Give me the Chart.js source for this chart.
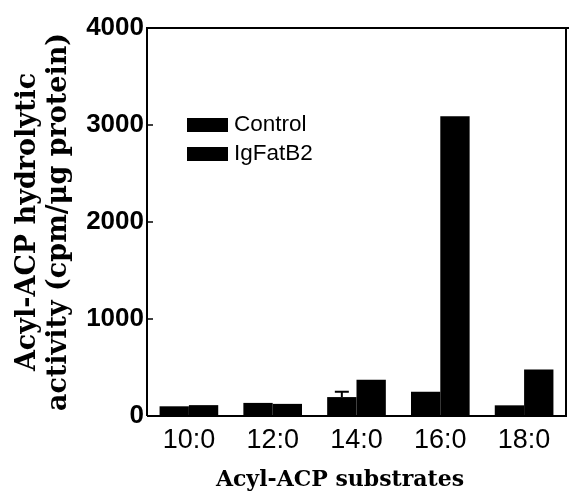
<!DOCTYPE html>
<html>
<head>
<meta charset="utf-8">
<script src="https://cdn.jsdelivr.net/npm/chart.js@4.4.1/dist/chart.umd.min.js"></script>
<style>
html,body{margin:0;padding:0;background:#fff;}
#wrap{width:569px;height:494px;position:relative;}
</style>
</head>
<body>
<div id="wrap"><canvas id="c" width="569" height="494"></canvas></div>
<script>
const categories = ['10:0', '12:0', '14:0', '16:0', '18:0'];
const controlValues = [100, 135, 195, 250, 110];
const igFatB2Values = [112, 125, 375, 3090, 480];
const controlErrors = [0, 0, 55, 0, 0];
const yTicks = [0, 1000, 2000, 3000, 4000];
const seriesLabels = ['Control', 'IgFatB2'];
const xTitle = 'Acyl-ACP substrates';

const framePlugin = {
  id: 'frame',
  afterDatasetsDraw(chart) {
    const {ctx, chartArea: a, scales: {x, y}} = chart;
    ctx.save();
    ctx.strokeStyle = '#000';
    ctx.lineWidth = 2;
    ctx.beginPath();
    ctx.moveTo(a.left, a.bottom);
    ctx.lineTo(a.left, a.top);
    ctx.lineTo(chart.width, a.top);
    ctx.moveTo(a.right, a.top);
    ctx.lineTo(a.right, a.bottom);
    ctx.lineTo(a.left, a.bottom);
    ctx.stroke();
    ctx.lineWidth = 1.5;
    yTicks.forEach(v => {
      const py = y.getPixelForValue(v);
      ctx.beginPath();
      ctx.moveTo(a.left, py);
      ctx.lineTo(a.left + 6, py);
      ctx.stroke();
    });
    const meta = chart.getDatasetMeta(0);
    ctx.lineWidth = 2;
    controlErrors.forEach((e, i) => {
      if (!e) return;
      const bar = meta.data[i];
      const top = y.getPixelForValue(controlValues[i] + e);
      const base = y.getPixelForValue(controlValues[i]);
      ctx.beginPath();
      ctx.moveTo(bar.x, base);
      ctx.lineTo(bar.x, top);
      ctx.moveTo(bar.x - 7, top);
      ctx.lineTo(bar.x + 7, top);
      ctx.stroke();
    });
    ctx.fillStyle = '#000';
    ctx.font = '22.5px "Liberation Sans", Arial, sans-serif';
    ctx.textBaseline = 'middle';
    chart.data.datasets.forEach((ds, i) => {
      const yy = 125 + i * 29;
      ctx.fillStyle = ds.backgroundColor;
      ctx.fillRect(187, yy - 7, 41, 14);
      ctx.fillStyle = '#000';
      ctx.fillText(ds.label, 234, yy);
    });
    ctx.font = 'bold 22px "DejaVu Serif", "Liberation Serif", serif';
    ctx.textAlign = 'center';
    ctx.textBaseline = 'middle';
    ctx.fillText(xTitle, 340, 480);
    ctx.restore();
  }
};

new Chart(document.getElementById('c'), {
  type: 'bar',
  data: {
    labels: categories,
    datasets: [
      {label: seriesLabels[0], data: controlValues, backgroundColor: '#000', borderWidth: 0, barPercentage: 1.0, categoryPercentage: 0.7},
      {label: seriesLabels[1], data: igFatB2Values, backgroundColor: '#000', borderWidth: 0, barPercentage: 1.0, categoryPercentage: 0.7}
    ]
  },
  options: {
    responsive: false,
    animation: false,
    devicePixelRatio: 1,
    layout: {padding: {top: 28, right: 3, left: 0, bottom: 0}},
    plugins: {legend: {display: false}, tooltip: {enabled: false}},
    scales: {
      x: {
        grid: {display: false, drawTicks: false},
        border: {display: false},
        ticks: {color: '#000', padding: 8, font: {family: '"Liberation Sans", Arial, sans-serif', size: 27}},
        title: {display: false},
        afterFit(s) { s.height = 78; }
      },
      y: {
        min: 0, max: 4000,
        afterBuildTicks(s) { s.ticks = yTicks.map(v => ({value: v})); },
        grid: {display: false, drawTicks: false},
        border: {display: false},
        ticks: {color: '#000', padding: 3, callback: v => String(v),
          font: {family: '"Liberation Sans", Arial, sans-serif', size: 26, weight: 'bold'}},
        title: {display: true, text: ['Acyl-ACP hydrolytic', 'activity (cpm/\u03bcg protein)'], color: '#000', padding: {top: 12, bottom: 4},
          font: {family: '"DejaVu Serif", "Liberation Serif", serif', weight: 'bold', size: 27, lineHeight: 1.15}},
        afterFit(s) { s.width = 147; }
      }
    }
  },
  plugins: [framePlugin]
});
</script>
</body>
</html>
